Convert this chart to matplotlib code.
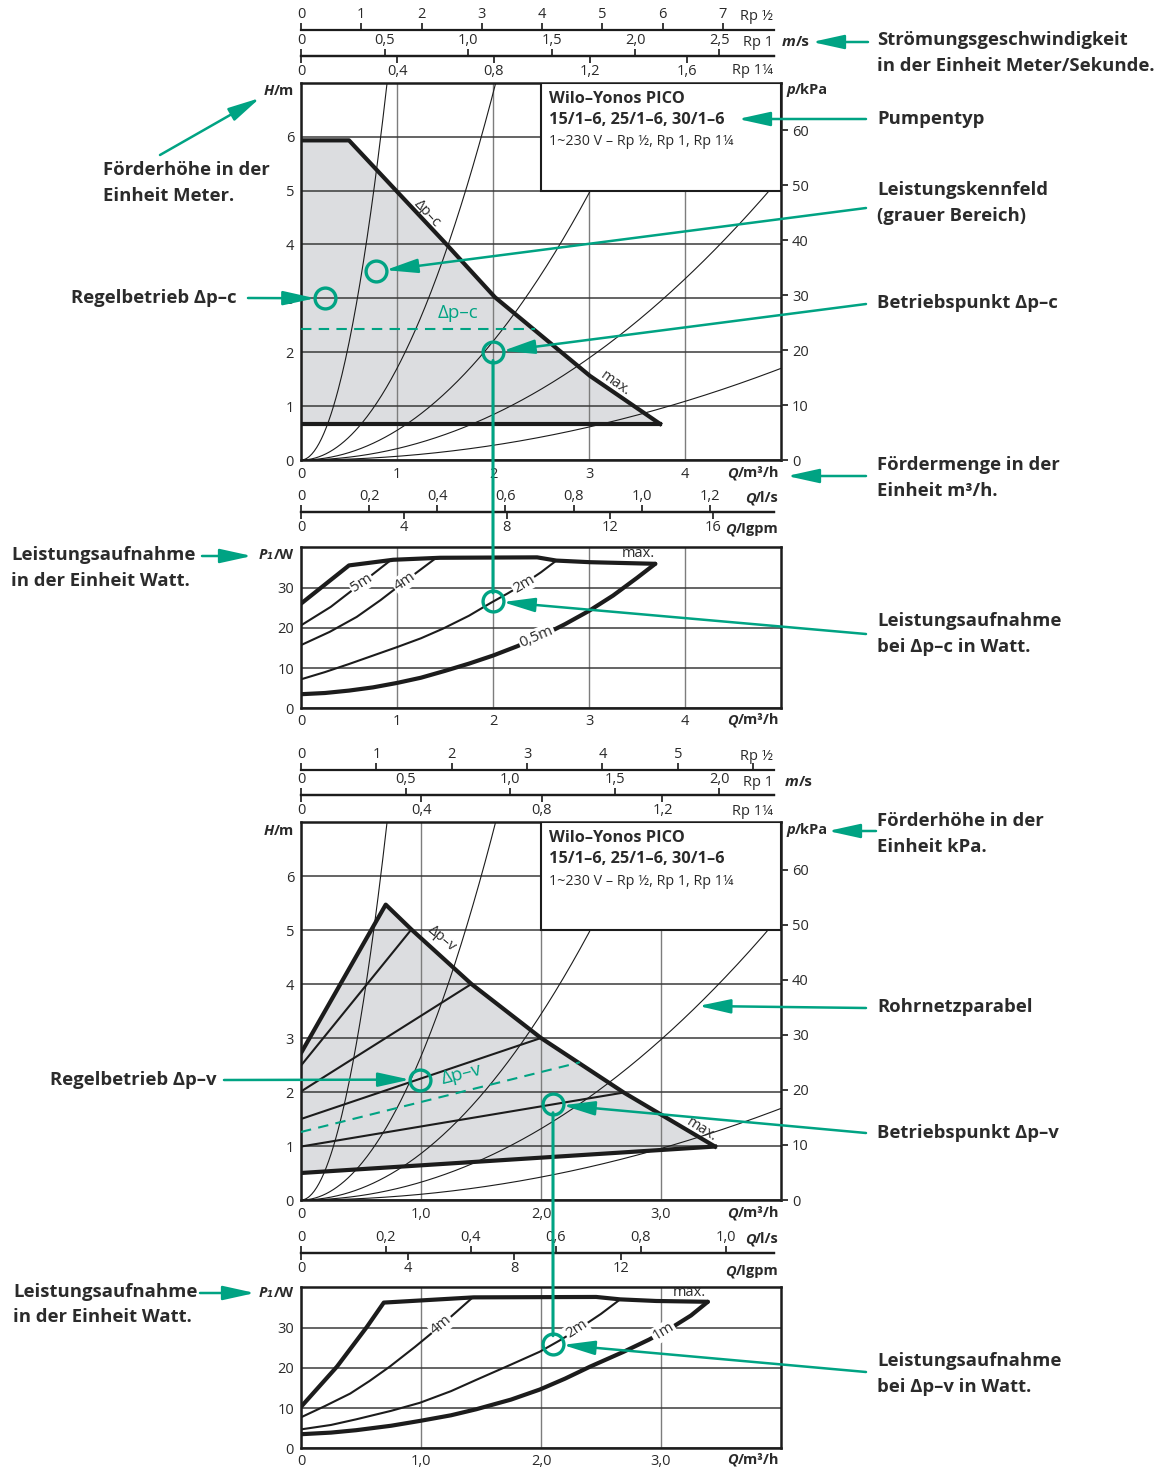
import numpy as np
import matplotlib.pyplot as plt
from matplotlib.patches import Rectangle, ConnectionPatch

W_PX, H_PX = 1159, 1470
GREEN = '#00a383'
INK = '#2a2a2a'
LINE = '#1c1c1c'
FIELD = '#dcdde0'

plt.rcParams['font.family'] = ['Open Sans', 'DejaVu Sans']
plt.rcParams['font.size'] = 10.5
plt.rcParams['text.color'] = INK
plt.rcParams['xtick.color'] = INK
plt.rcParams['ytick.color'] = INK

# ---------------- Δp-c (constant) diagram ----------------
c_qmax = 5.0
c_env_q = [0, 0.5, 1.49, 2.02, 3.01, 3.74]
c_env_h = [5.93, 5.93, 4.05, 3.02, 1.56, 0.67]
c_hmin = 0.67
c_set_h, c_set_qend = 2.43, 2.44
c_pipe_k = [8.7, 1.7, 0.55, 0.21, 0.068]
c_duty = (2.0, 2.0)
c_duty_p = 26.6
c_mode = (0.25, 3.0)
c_field = (0.78, 3.5)

c_pmax_q = [0, 0.5, 0.96, 1.45, 2.46, 2.66, 3.01, 3.69]
c_pmax_w = [26.0, 35.5, 36.9, 37.4, 37.5, 36.7, 36.3, 35.9]
c_pmin_q = [0, 0.25, 0.5, 0.75, 1.0, 1.25, 1.5, 1.75, 2.0, 2.25, 2.5, 2.75,
            3.0, 3.25, 3.5, 3.69]
c_pmin_w = [3.5, 3.8, 4.4, 5.2, 6.3, 7.6, 9.3, 11.1, 13.1, 15.4, 17.9, 20.9,
            24.2, 28.0, 32.4, 35.9]
c_p5_q = [0, 0.31, 0.63, 0.94]
c_p5_w = [20.6, 25.2, 31.1, 36.9]
c_p4_q = [0, 0.3, 0.58, 0.83, 1.08, 1.41]
c_p4_w = [15.7, 19.0, 22.7, 26.9, 31.5, 37.4]
c_p2_q = [0, 0.25, 0.5, 0.75, 1.0, 1.25, 1.48, 1.75, 1.97, 2.15, 2.32, 2.5, 2.66]
c_p2_w = [7.2, 9.0, 11.0, 13.1, 15.2, 17.4, 19.8, 23.0, 26.1, 28.5, 30.9, 33.8, 36.7]

# ---------------- Δp-v (variable) diagram ----------------
v_qmax = 4.0
v_env_q = [0, 0.706, 0.92, 1.42, 2.0, 2.69, 3.45]
v_env_h = [2.72, 5.47, 5.01, 4.0, 3.0, 1.99, 0.99]
v_min_q = [0, 3.45]
v_min_h = [0.5, 0.99]
v_lines_h0 = [2.49, 2.01, 1.50, 0.99]
v_lines_q1 = [0.92, 1.42, 2.0, 2.69]
v_lines_h1 = [5.01, 4.0, 3.0, 1.99]
v_set_q = [0, 2.325]
v_set_h = [1.26, 2.55]
v_pipe_k = [13.6, 2.66, 0.86, 0.33, 0.106]
v_duty = (2.1, 1.77)
v_duty_p = 25.9
v_mode = (0.99, 2.23)
v_pipe_mark_q = 3.3

v_pmax_q = [0, 0.30, 0.55, 0.69, 1.44, 2.46, 2.66, 2.96, 3.39]
v_pmax_w = [10.3, 20.3, 30.2, 36.2, 37.5, 37.6, 37.0, 36.6, 36.4]
v_pmin_q = [0, 0.25, 0.46, 0.75, 0.99, 1.25, 1.46, 1.75, 1.99, 2.2, 2.41,
            2.69, 2.9, 3.10, 3.25, 3.39]
v_pmin_w = [3.5, 3.9, 4.5, 5.6, 6.8, 8.2, 9.7, 12.1, 14.6, 17.3, 20.3,
            24.0, 27.0, 30.2, 33.0, 36.4]
v_p2_q = [0, 0.25, 0.46, 0.75, 0.99, 1.25, 1.46, 1.75, 1.99, 2.15, 2.30, 2.5, 2.66]
v_p2_w = [4.7, 5.8, 7.2, 9.3, 11.3, 14.2, 17.0, 20.8, 24.0, 26.7, 29.4, 33.4, 37.0]
v_p4_q = [0, 0.2, 0.41, 0.57, 0.74, 0.95, 1.17, 1.42]
v_p4_w = [7.7, 10.5, 13.6, 16.7, 20.3, 25.2, 30.6, 37.2]

# velocity scales: m³/h per m/s for each pipe size
vel_rp12, vel_rp1, vel_rp114 = 0.628, 1.742, 2.51
c_vel12 = [0, 1, 2, 3, 4, 5, 6, 7]
c_vel1 = [0, 0.5, 1.0, 1.5, 2.0, 2.5]
c_vel114 = [0, 0.4, 0.8, 1.2, 1.6]
v_vel12 = [0, 1, 2, 3, 4, 5, 6]
v_vel1 = [0, 0.5, 1.0, 1.5, 2.0]
v_vel114 = [0, 0.4, 0.8, 1.2]
# flow scales: m³/h per l/s and per Igpm
c_ls_f, c_gpm_f = 3.55, 0.268
v_ls_f, v_gpm_f = 3.54, 0.222
c_ls = [0, 0.2, 0.4, 0.6, 0.8, 1.0, 1.2]
c_gpm = [0, 4, 8, 12, 16]
v_ls = [0, 0.2, 0.4, 0.6, 0.8, 1.0]
v_gpm = [0, 4, 8, 12]


def dec(v):
    s = ('%g' % v) if float(v).is_integer() else ('%.1f' % v)
    return s.replace('.', ',')


def dec1(v):
    return '0' if v == 0 else ('%.1f' % v).replace('.', ',')


fig = plt.figure(figsize=(W_PX / 100, H_PX / 100), dpi=100)


def frame(left, top, right, bottom):
    ax = fig.add_axes([left / W_PX, 1 - bottom / H_PX,
                       (right - left) / W_PX, (bottom - top) / H_PX])
    ax.patch.set_alpha(0)
    return ax


def style_frame(ax):
    for s in ax.spines.values():
        s.set_linewidth(1.8)
        s.set_color(LINE)
    ax.tick_params(length=0, labelsize=10.5, pad=5)
    ax.xaxis.grid(True, color='#7d7d7d', lw=1.0)
    ax.yaxis.grid(True, color='#3a3a3a', lw=1.1)
    ax.set_axisbelow('line')


def head_chart(ax, qmax, qlabels, pipe_k):
    ax.set_xlim(0, qmax)
    ax.set_ylim(0, 7)
    ax.set_xticks(range(len(qlabels)), qlabels)
    ax.set_yticks(range(7))
    style_frame(ax)
    ax.tick_params(axis='x', pad=5)
    q = np.linspace(0, qmax, 400)
    for k in pipe_k:
        ax.plot(q, k * q ** 2, color=LINE, lw=0.8, zorder=2)
    kpa = ax.twinx()
    kpa.set_ylim(0, 7 * 9.81)
    kpa.set_yticks(range(0, 61, 10))
    kpa.tick_params(direction='out', length=5, width=1.3, labelsize=10.5, pad=3)
    for s in kpa.spines.values():
        s.set_visible(False)
    kpa.patch.set_alpha(0)
    # type plate
    box = Rectangle((qmax / 2, 5.0), qmax / 2, 2.0, facecolor='white',
                    edgecolor=LINE, lw=1.5, zorder=4)
    ax.add_patch(box)
    for txt, dy, wt, sz in [('Wilo–Yonos PICO', 11.5, 'bold', 11.8),
                            ('15/1–6, 25/1–6, 30/1–6', 26.6, 'bold', 11.8),
                            ('1~230 V – Rp ½, Rp 1, Rp 1¼', 42.5, 'normal', 10.3)]:
        ax.annotate(txt, xy=(0, 1), xycoords=box, xytext=(5.8, -dy),
                    textcoords='offset points', ha='left', va='center',
                    fontweight=wt, fontsize=sz, zorder=5)


def power_chart(ax, qmax, qlabels):
    ax.set_xlim(0, qmax)
    ax.set_ylim(0, 40)
    ax.set_xticks(range(len(qlabels)), qlabels)
    ax.set_yticks([0, 10, 20, 30])
    style_frame(ax)
    ax.tick_params(axis='x', pad=4)


def scale(y_px, qmax, factor, values, labels, above):
    ax = fig.add_axes([301 / W_PX, 1 - y_px / H_PX, 480 / W_PX, 1e-5])
    ax.patch.set_alpha(0)
    ax.set_xlim(0, qmax)
    ax.set_yticks([])
    for s in ax.spines.values():
        s.set_visible(False)
    side = 'top' if above else 'bottom'
    ax.spines[side].set_visible(True)
    ax.spines[side].set_linewidth(1.6)
    ax.spines[side].set_color(LINE)
    ax.spines[side].set_bounds(0, qmax * 473 / 480)
    ax.set_xticks([v * factor for v in values], labels)
    if above:
        ax.xaxis.tick_top()
    ax.tick_params(axis='x', direction='out', length=5, width=1.3,
                   labelsize=10.5, pad=1)
    return ax


def curve(ax, q, w, lw):
    ax.plot(q, w, color=LINE, lw=lw, solid_joinstyle='round',
            solid_capstyle='round', zorder=3)


def tag(ax, x, y, s, rot, bg=True, size=10.8):
    kw = dict(boxstyle='square,pad=0.08', fc='white', ec='none') if bg else None
    ax.text(x, y, s, rotation=rot, ha='center', va='center', fontsize=size,
            bbox=kw, zorder=4, rotation_mode='anchor')


def ring(ax, q, v):
    ax.plot([q], [v], 'o', ms=15, mfc='none', mec=GREEN, mew=2.4,
            zorder=8, clip_on=False)


# ---------------- upper section: Δp-c ----------------
axH1 = frame(301, 82.7, 781, 460)
head_chart(axH1, c_qmax, ['0', '1', '2', '3', '4'], c_pipe_k)
axH1.fill(c_env_q + [c_env_q[-1], 0], c_env_h + [c_hmin, c_hmin],
          color=FIELD, lw=0, zorder=1)
axH1.plot(c_env_q, c_env_h, color=LINE, lw=3, zorder=3, solid_joinstyle='round')
axH1.plot([0, c_env_q[-1]], [c_hmin, c_hmin], color=LINE, lw=3, zorder=3)
axH1.plot([0, c_set_qend], [c_set_h, c_set_h], color=GREEN, lw=1.5,
          ls=(0, (5, 3.5)), zorder=3)
axH1.text(1.64, 2.72, 'Δp–c', color=GREEN, fontsize=13.5, ha='center',
          va='center', zorder=5)
tag(axH1, 1.31, 4.58, 'Δp–c', -47, bg=False, size=10.5)
tag(axH1, 3.27, 1.42, 'max.', -35, bg=False, size=10.5)
ring(axH1, *c_mode)
ring(axH1, *c_field)
ring(axH1, *c_duty)

axP1 = frame(301, 547.3, 781, 708.3)
power_chart(axP1, c_qmax, ['0', '1', '2', '3', '4'])
curve(axP1, c_pmax_q, c_pmax_w, 3)
curve(axP1, c_pmin_q, c_pmin_w, 3)
curve(axP1, c_p5_q, c_p5_w, 1.5)
curve(axP1, c_p4_q, c_p4_w, 1.5)
curve(axP1, c_p2_q, c_p2_w, 1.5)
tag(axP1, 0.63, 31.1, '5m', 33)
tag(axP1, 1.08, 31.5, '4m', 35)
tag(axP1, 2.32, 30.9, '2m', 31)
tag(axP1, 2.455, 17.7, '0,5m', 23)
axP1.text(3.51, 38.4, 'max.', ha='center', va='center', fontsize=10.5)
ring(axP1, c_duty[0], c_duty_p)

scale(30, c_qmax, vel_rp12, c_vel12, [dec(v) for v in c_vel12], True)
scale(56, c_qmax, vel_rp1, c_vel1, [dec1(v) for v in c_vel1], True)
scale(56, c_qmax, vel_rp114, c_vel114, [dec1(v) for v in c_vel114], False)
scale(512, c_qmax, c_ls_f, c_ls, [dec1(v) for v in c_ls], True)
scale(512, c_qmax, c_gpm_f, c_gpm, [dec(v) for v in c_gpm], False)

# ---------------- lower section: Δp-v ----------------
axH2 = frame(301, 822, 781, 1200)
head_chart(axH2, v_qmax, ['0', '1,0', '2,0', '3,0'], v_pipe_k)
axH2.fill(v_env_q + [v_min_q[1], 0], v_env_h + [v_min_h[1], v_min_h[0]],
          color=FIELD, lw=0, zorder=1)
axH2.plot(v_env_q, v_env_h, color=LINE, lw=3, zorder=3, solid_joinstyle='round')
axH2.plot(v_min_q, v_min_h, color=LINE, lw=3, zorder=3)
for h0, q1, h1 in zip(v_lines_h0, v_lines_q1, v_lines_h1):
    axH2.plot([0, q1], [h0, h1], color=LINE, lw=1.5, zorder=3)
axH2.plot(v_set_q, v_set_h, color=GREEN, lw=1.5, ls=(0, (5, 3.5)), zorder=3)
axH2.text(1.34, 2.32, 'Δp–v', color=GREEN, fontsize=13.5, ha='center',
          va='center', rotation=14, rotation_mode='anchor', zorder=5)
tag(axH2, 1.17, 4.85, 'Δp–v', -40, bg=False, size=10.5)
tag(axH2, 3.34, 1.30, 'max.', -32, bg=False, size=10.5)
ring(axH2, *v_mode)
ring(axH2, *v_duty)

axP2 = frame(301, 1287.3, 781, 1448.3)
power_chart(axP2, v_qmax, ['0', '1,0', '2,0', '3,0'])
curve(axP2, v_pmax_q, v_pmax_w, 3)
curve(axP2, v_pmin_q, v_pmin_w, 3)
curve(axP2, v_p2_q, v_p2_w, 1.5)
curve(axP2, v_p4_q, v_p4_w, 1.5)
tag(axP2, 1.17, 30.6, '4m', 40)
tag(axP2, 2.30, 29.6, '2m', 33)
tag(axP2, 3.02, 29.0, '1m', 31)
axP2.text(3.24, 38.6, 'max.', ha='center', va='center', fontsize=10.5)
ring(axP2, v_duty[0], v_duty_p)

scale(770, v_qmax, vel_rp12, v_vel12, [dec(v) for v in v_vel12[:-1]] + [''], True)
scale(795, v_qmax, vel_rp1, v_vel1, [dec1(v) for v in v_vel1], True)
scale(795, v_qmax, vel_rp114, v_vel114, [dec1(v) for v in v_vel114], False)
scale(1253, v_qmax, v_ls_f, v_ls, [dec1(v) for v in v_ls], True)
scale(1253, v_qmax, v_gpm_f, v_gpm, [dec(v) for v in v_gpm], False)

# operating point carried down into the power diagram
for axa, axb, q, h, p in [(axH1, axP1, c_duty[0], c_duty[1], c_duty_p),
                          (axH2, axP2, v_duty[0], v_duty[1], v_duty_p)]:
    fig.add_artist(ConnectionPatch(xyA=(q, h), coordsA=axa.transData,
                                   xyB=(q, p), coordsB=axb.transData,
                                   color=GREEN, lw=2.2, shrinkA=6, shrinkB=6))

# ---------------- overlay: unit labels and call-outs ----------------
over = fig.add_axes([0, 0, 1, 1], zorder=10)
over.set_xlim(0, W_PX)
over.set_ylim(H_PX, 0)
over.axis('off')


def unit(x, y, sym, rest, ha='left', size=10.5):
    if ha == 'left':
        t = over.text(x, y, sym, ha='left', va='center', fontsize=size,
                      fontweight='bold', fontstyle='italic')
        over.annotate(rest, xy=(1, 0), xycoords=t, ha='left', va='bottom',
                      fontsize=size, fontweight='bold')
    else:
        t = over.text(x, y, rest, ha='right', va='center', fontsize=size,
                      fontweight='bold')
        over.annotate(sym, xy=(0, 0), xycoords=t, ha='right', va='bottom',
                      fontsize=size, fontweight='bold', fontstyle='italic')


for yh, yp, yq1, yls, ygpm, yq2 in [(91, 90, 473, 498, 529, 720),
                                    (831, 830, 1213, 1239, 1271, 1460)]:
    unit(294, yh, 'H', '/m', ha='right')
    unit(786, yp, 'p', '/kPa')
    unit(779, yq1, 'Q', '/m³/h', ha='right')
    unit(779, yls, 'Q', '/l/s', ha='right')
    unit(779, ygpm, 'Q', '/Igpm', ha='right')
    unit(779, yq2, 'Q', '/m³/h', ha='right')
unit(294, 555, 'P₁', '/W', ha='right')
unit(294, 1293, 'P₁', '/W', ha='right')
unit(782, 42, 'm', '/s', size=11)
unit(785, 782, 'm', '/s', size=11)
for y, s in [(16, 'Rp ½'), (42, 'Rp 1'), (70, 'Rp 1¼'),
             (756, 'Rp ½'), (782, 'Rp 1'), (811, 'Rp 1¼')]:
    over.text(773, y, s, ha='right', va='center', fontsize=10.5)

NOTE = dict(fontsize=13.3, fontweight='bold', va='center', color='#2b2b2b')


def note(x, y, lines, ha='left'):
    for i, s in enumerate(lines):
        over.text(x, y + 25.5 * i, s, ha=ha, **NOTE)


def callout(start, xy, coords=None, shrink=0):
    over.annotate('', xy=xy, xycoords=coords if coords is not None else 'data',
                  xytext=start, textcoords='data', annotation_clip=False,
                  arrowprops=dict(arrowstyle='-|>,head_length=1.95,head_width=0.43',
                                  mutation_scale=10, color=GREEN, lw=1.8,
                                  shrinkA=0, shrinkB=shrink))


note(877, 40, ['Strömungsgeschwindigkeit', 'in der Einheit Meter/Sekunde.'])
callout((868, 42), (812, 42))
note(877, 119, ['Pumpentyp'])
callout((866, 119), (738, 119))
note(877, 190, ['Leistungskennfeld', '(grauer Bereich)'])
callout((866, 208), c_field, axH1.transData, 7)
note(877, 303, ['Betriebspunkt Δp–c'])
callout((866, 304), c_duty, axH1.transData, 7)
note(877, 465, ['Fördermenge in der', 'Einheit m³/h.'])
callout((866, 476), (787, 476))
note(877, 621, ['Leistungsaufnahme', 'bei Δp–c in Watt.'])
callout((866, 634), (c_duty[0], c_duty_p), axP1.transData, 7)
note(877, 821, ['Förderhöhe in der', 'Einheit kPa.'])
callout((876, 831), (828, 831))
note(877, 1007, ['Rohrnetzparabel'])
callout((866, 1008), (v_pipe_mark_q, v_pipe_k[3] * v_pipe_mark_q ** 2),
        axH2.transData, 1)
note(877, 1133, ['Betriebspunkt Δp–v'])
callout((866, 1133), v_duty, axH2.transData, 7)
note(877, 1361, ['Leistungsaufnahme', 'bei Δp–v in Watt.'])
callout((866, 1372), (v_duty[0], v_duty_p), axP2.transData, 7)

note(103, 170, ['Förderhöhe in der', 'Einheit Meter.'])
callout((160, 155), (260, 98))
note(237, 298, ['Regelbetrieb Δp–c'], ha='right')
callout((248, 298), c_mode, axH1.transData, 7)
note(11, 555, ['Leistungsaufnahme', 'in der Einheit Watt.'])
callout((202, 556), (252, 556))
note(217, 1080, ['Regelbetrieb Δp–v'], ha='right')
callout((224, 1080), v_mode, axH2.transData, 7)
note(13, 1292, ['Leistungsaufnahme', 'in der Einheit Watt.'])
callout((200, 1293), (255, 1293))

fig.savefig('out.png', dpi=100, facecolor='white')
